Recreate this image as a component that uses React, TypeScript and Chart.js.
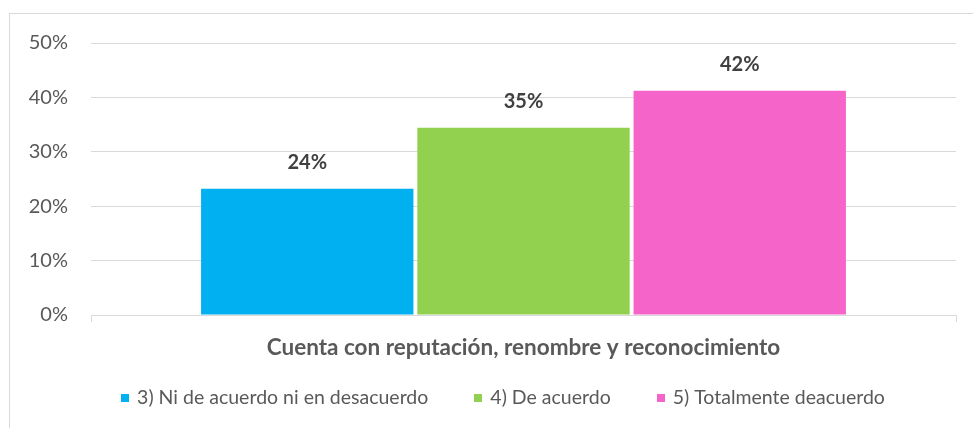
import React, { useEffect, useRef } from 'react';
import { Chart, registerables } from 'chart.js';

Chart.register(...registerables);

const categories = ['Cuenta con reputación, renombre y reconocimiento'];
const seriesNames = ['3) Ni de acuerdo ni en desacuerdo', '4) De acuerdo', '5) Totalmente deacuerdo'];
const seriesValues = [0.232, 0.344, 0.412];
const valueLabels = ['24%', '35%', '42%'];
const seriesColors = ['#00B0F0', '#92D050', '#F564C9'];
const yTickLabels = ['0%', '10%', '20%', '30%', '40%', '50%'];

const FONT = 'Lato';
const LEGEND_FONT_SIZE = 19.5;

const borderPlugin = {
  id: 'outerBorder',
  beforeDraw(chart: any) {
    const ctx = chart.ctx;
    ctx.save();
    ctx.strokeStyle = '#D9D9D9';
    ctx.lineWidth = 1;
    ctx.strokeRect(9.5, 13.5, chart.width + 20, chart.height + 20);
    ctx.restore();
  },
};

const valueLabelPlugin = {
  id: 'valueLabels',
  afterDatasetsDraw(chart: any) {
    const ctx = chart.ctx;
    ctx.save();
    ctx.font = `bold 20px ${FONT}`;
    ctx.fillStyle = '#404040';
    ctx.textAlign = 'center';
    ctx.textBaseline = 'alphabetic';
    chart.data.datasets.forEach((_ds: any, i: number) => {
      const meta = chart.getDatasetMeta(i);
      meta.data.forEach((el: any) => {
        ctx.fillText(valueLabels[i], el.x, el.y - 20);
      });
    });
    ctx.restore();
  },
};

const legendPlugin = {
  id: 'bottomLegend',
  afterDraw(chart: any) {
    const ctx = chart.ctx;
    ctx.save();
    ctx.font = `${LEGEND_FONT_SIZE}px ${FONT}`;
    const box = 8;
    const gapText = 8;
    const gapItem = 46;
    const items = chart.data.datasets.map((ds: any) => ({
      label: ds.label as string,
      color: ds.backgroundColor as string,
      w: ctx.measureText(ds.label).width,
    }));
    const total =
      items.reduce((s: number, it: any) => s + box + gapText + it.w, 0) + gapItem * (items.length - 1);
    let x = 503 - total / 2;
    const y = 398;
    ctx.textBaseline = 'middle';
    ctx.textAlign = 'left';
    items.forEach((it: any) => {
      ctx.fillStyle = it.color;
      ctx.fillRect(Math.round(x), y - box / 2, box, box);
      x += box + gapText;
      ctx.fillStyle = '#595959';
      ctx.fillText(it.label, x, y);
      x += it.w + gapItem;
    });
    ctx.restore();
  },
};

export default function App() {
  const canvasRef = useRef<HTMLCanvasElement | null>(null);

  useEffect(() => {
    document.body.style.margin = '0';
    const canvas = canvasRef.current;
    if (!canvas) return;
    const chart = new Chart(canvas, {
      type: 'bar',
      data: {
        labels: categories,
        datasets: seriesNames.map((name, i) => ({
          label: name,
          data: [seriesValues[i]],
          backgroundColor: seriesColors[i],
          borderWidth: 0,
          categoryPercentage: 0.75,
          barPercentage: 0.982,
        })),
      },
      options: {
        animation: false,
        responsive: false,
        maintainAspectRatio: false,
        layout: { padding: { left: 0, right: 17, top: 43, bottom: 0 } },
        plugins: {
          legend: { display: false },
          tooltip: { enabled: false },
          title: { display: false },
        },
        scales: {
          x: {
            offset: true,
            grid: {
              display: true,
              offset: true,
              drawOnChartArea: false,
              drawTicks: true,
              tickLength: 7,
              color: '#D9D9D9',
            },
            border: { display: true, color: '#D9D9D9' },
            ticks: {
              padding: 12,
              color: '#595959',
              font: { family: FONT, size: 22.5, weight: 'bold' },
              maxRotation: 0,
            },
            afterFit(scale: any) {
              scale.height = 113;
            },
          },
          y: {
            min: 0,
            max: 0.5,
            ticks: {
              stepSize: 0.1,
              padding: 23,
              color: '#595959',
              font: { family: FONT, size: 20 },
              callback: (_v: any, idx: number) => yTickLabels[idx],
            },
            grid: { color: '#D9D9D9', drawTicks: false, lineWidth: 1 },
            border: { display: false },
            afterFit(scale: any) {
              scale.width = 91;
            },
          },
        },
      },
      plugins: [borderPlugin, valueLabelPlugin, legendPlugin],
    });
    return () => chart.destroy();
  }, []);

  return <canvas ref={canvasRef} width={973} height={428} style={{ display: 'block' }} />;
}
